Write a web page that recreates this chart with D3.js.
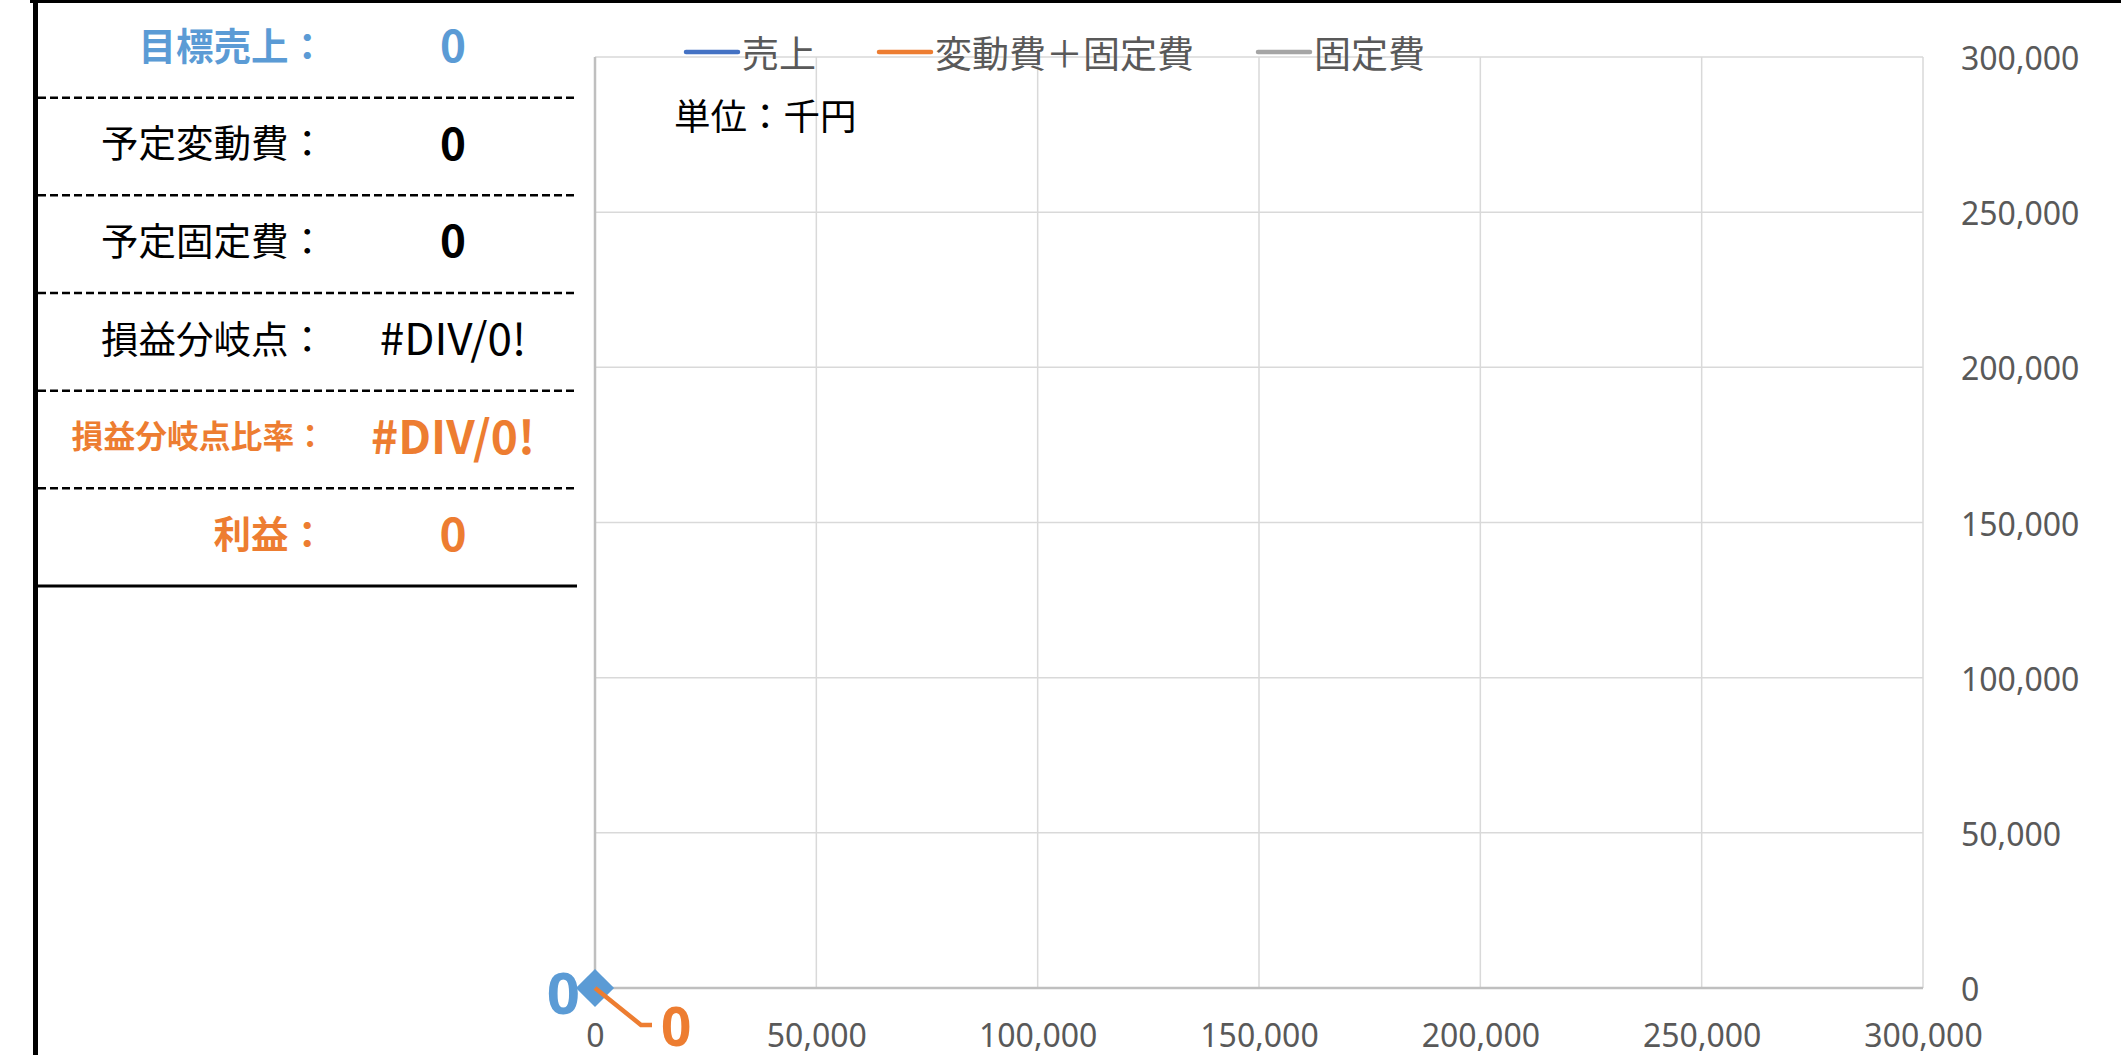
<!DOCTYPE html>
<html><head><meta charset="utf-8">
<script src="https://cdn.jsdelivr.net/npm/d3@7"></script>
<style>
html,body{margin:0;padding:0;background:#fff;}
svg{display:block;}
</style></head>
<body>
<svg id="c" width="2121" height="1055"></svg>
<script>
// ---- data ----
const tableLabels = ["目標売上：", "予定変動費：", "予定固定費：", "損益分岐点：", "損益分岐点比率：", "利益："];
const tableValues = ["0", "0", "0", "#DIV/0!", "#DIV/0!", "0"];
const seriesNames = ["売上", "変動費＋固定費", "固定費"];
const salesX = [0];
const salesY = [0];
const totalCostX = [0];
const totalCostY = [0];
const fixedCostX = [0];
const fixedCostY = [0];
const xTicks = [0, 50000, 100000, 150000, 200000, 250000, 300000];
const yTicks = [0, 50000, 100000, 150000, 200000, 250000, 300000];
const unitLabel = "単位：千円";

// ---- styles ----
const BLUE = "#5B9BD5", ORANGE = "#ED7D31";
const labelStyle = [
  {fill: BLUE, weight: 700, size: 37.5},
  {fill: "#000", weight: 400, size: 37.5},
  {fill: "#000", weight: 400, size: 37.5},
  {fill: "#000", weight: 400, size: 37.5},
  {fill: ORANGE, weight: 700, size: 31.8},
  {fill: ORANGE, weight: 700, size: 37.5}
];
const valueStyle = [
  {fill: BLUE, weight: 700, size: 44},
  {fill: "#000", weight: 700, size: 44},
  {fill: "#000", weight: 700, size: 44},
  {fill: "#000", weight: 400, size: 44},
  {fill: ORANGE, weight: 700, size: 46},
  {fill: ORANGE, weight: 700, size: 46}
];
const legendColors = ["#4472C4", "#ED7D31", "#A5A5A5"];
const JP = "'Noto Sans CJK JP','Noto Sans',sans-serif";

const svg = d3.select("#c");

// ---- frame borders ----
svg.append("rect").attr("x", 30).attr("y", 0).attr("width", 2091).attr("height", 3).attr("fill", "#000");
svg.append("rect").attr("x", 33).attr("y", 0).attr("width", 5).attr("height", 1055).attr("fill", "#000");

// ---- table ----
const rowScale = d3.scaleBand().domain(d3.range(tableLabels.length)).range([0, 586]);
const tbl = svg.append("g");
d3.range(1, tableLabels.length).forEach(i => {
  tbl.append("line").attr("x1", 38).attr("x2", 577)
    .attr("y1", rowScale(i)).attr("y2", rowScale(i))
    .attr("stroke", "#000").attr("stroke-width", 2.5).attr("stroke-dasharray", "8,4");
});
tbl.append("line").attr("x1", 38).attr("x2", 577).attr("y1", 586).attr("y2", 586)
  .attr("stroke", "#000").attr("stroke-width", 3);

tbl.selectAll("text.lab").data(tableLabels).join("text").attr("class", "lab")
  .attr("x", 326).attr("y", (d, i) => rowScale(i) + 43)
  .attr("text-anchor", "end").attr("dominant-baseline", "central")
  .attr("font-family", JP)
  .attr("font-size", (d, i) => labelStyle[i].size)
  .attr("font-weight", (d, i) => labelStyle[i].weight)
  .attr("fill", (d, i) => labelStyle[i].fill)
  .text(d => d);

tbl.selectAll("text.val").data(tableValues).join("text").attr("class", "val")
  .attr("x", 453).attr("y", (d, i) => rowScale(i) + 43)
  .attr("text-anchor", "middle").attr("dominant-baseline", "central")
  .attr("font-family", JP)
  .attr("font-size", (d, i) => valueStyle[i].size)
  .attr("font-weight", (d, i) => valueStyle[i].weight)
  .attr("fill", (d, i) => valueStyle[i].fill)
  .text(d => d);

// ---- chart ----
const L = 595, R = 1923, T = 57, B = 988;
const x = d3.scaleLinear().domain([0, 300000]).range([L, R]);
const y = d3.scaleLinear().domain([0, 300000]).range([B, T]);

const grid = svg.append("g");
grid.selectAll("line.gx").data(xTicks.slice(1)).join("line").attr("class", "gx")
  .attr("x1", d => x(d)).attr("x2", d => x(d)).attr("y1", T).attr("y2", B)
  .attr("stroke", "#D9D9D9").attr("stroke-width", 1.5);
grid.selectAll("line.gy").data(yTicks.slice(1)).join("line").attr("class", "gy")
  .attr("x1", L).attr("x2", R).attr("y1", d => y(d)).attr("y2", d => y(d))
  .attr("stroke", "#D9D9D9").attr("stroke-width", 1.5);
// axis lines
grid.append("line").attr("x1", L).attr("x2", L).attr("y1", T).attr("y2", B)
  .attr("stroke", "#BFBFBF").attr("stroke-width", 2.5);
grid.append("line").attr("x1", L).attr("x2", R).attr("y1", B).attr("y2", B)
  .attr("stroke", "#BFBFBF").attr("stroke-width", 2.5);

const fmt = d3.format(",");
const xAxis = svg.append("g").attr("transform", `translate(0,${B})`)
  .call(d3.axisBottom(x).tickValues(xTicks).tickFormat(fmt).tickSize(0).tickPadding(0));
xAxis.select(".domain").remove();
xAxis.selectAll("text").attr("y", 46).attr("dy", null).attr("dominant-baseline", "central")
  .attr("font-family", "'Noto Sans',sans-serif").attr("font-size", 32).attr("fill", "#595959");

const yAxis = svg.append("g").attr("transform", `translate(${R},0)`)
  .call(d3.axisRight(y).tickValues(yTicks).tickFormat(fmt).tickSize(0).tickPadding(38));
yAxis.select(".domain").remove();
yAxis.selectAll("text").attr("dy", null).attr("dominant-baseline", "central")
  .attr("font-family", "'Noto Sans',sans-serif").attr("font-size", 32).attr("fill", "#595959");

// series lines
const line = d3.line().x(d => x(d[0])).y(d => y(d[1]));
const seriesData = [
  d3.zip(salesX, salesY),
  d3.zip(totalCostX, totalCostY),
  d3.zip(fixedCostX, fixedCostY)
];
svg.append("g").selectAll("path").data(seriesData).join("path")
  .attr("d", line).attr("fill", "none")
  .attr("stroke", (d, i) => legendColors[i]).attr("stroke-width", 4);

// sales marker (diamond) + label
const salesPts = d3.zip(salesX, salesY);
svg.append("g").selectAll("path").data(salesPts).join("path")
  .attr("transform", d => `translate(${x(d[0])},${y(d[1])}) rotate(45)`)
  .attr("d", d3.symbol(d3.symbolSquare, 729)())
  .attr("fill", BLUE);
svg.append("g").selectAll("text").data(salesPts).join("text")
  .attr("x", d => x(d[0]) - 15).attr("y", d => y(d[1]) + 3)
  .attr("text-anchor", "end").attr("dominant-baseline", "central")
  .attr("font-family", "'Noto Sans',sans-serif").attr("font-weight", 700).attr("font-size", 58)
  .attr("fill", BLUE).text(d => fmt(d[1]));

// total-cost label with leader line
const costPts = d3.zip(totalCostX, totalCostY);
svg.append("g").selectAll("path").data(costPts).join("path")
  .attr("d", d => `M${x(d[0])},${y(d[1])}L${x(d[0]) + 46},${y(d[1]) + 37}H${x(d[0]) + 57}`)
  .attr("fill", "none").attr("stroke", ORANGE).attr("stroke-width", 4.5);
svg.append("g").selectAll("text").data(costPts).join("text")
  .attr("x", d => x(d[0]) + 66).attr("y", d => y(d[1]) + 37)
  .attr("text-anchor", "start").attr("dominant-baseline", "central")
  .attr("font-family", "'Noto Sans',sans-serif").attr("font-weight", 700).attr("font-size", 53)
  .attr("fill", ORANGE).text(d => fmt(d[1]));

// legend
const legX = [686, 879, 1258];
const leg = svg.append("g");
seriesNames.forEach((n, i) => {
  leg.append("line").attr("x1", legX[i]).attr("x2", legX[i] + 52).attr("y1", 52).attr("y2", 52)
    .attr("stroke", legendColors[i]).attr("stroke-width", 4.5).attr("stroke-linecap", "round");
  leg.append("text").attr("x", legX[i] + 56).attr("y", 52).attr("dominant-baseline", "central")
    .attr("font-family", JP).attr("font-size", 37).attr("fill", "#595959").text(n);
});

// unit
svg.append("text").attr("x", 674).attr("y", 114).attr("dominant-baseline", "central")
  .attr("font-family", JP).attr("font-size", 36.5).attr("fill", "#000").text(unitLabel);
</script>
</body></html>
